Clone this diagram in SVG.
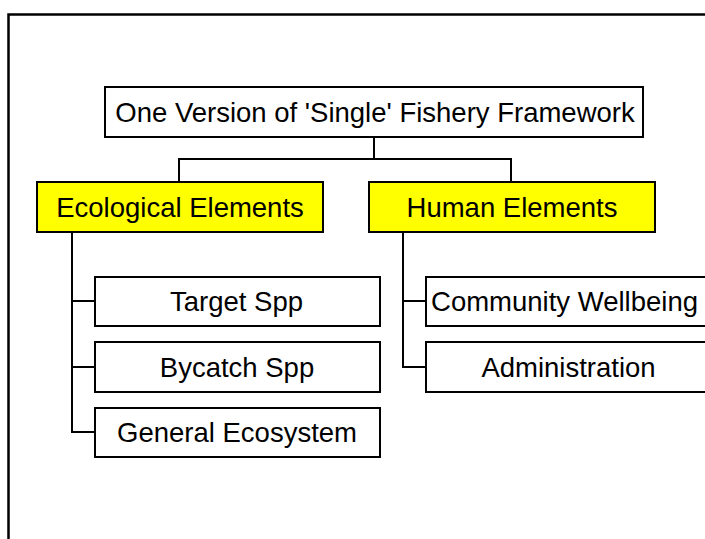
<svg xmlns="http://www.w3.org/2000/svg" width="705" height="539" viewBox="0 0 705 539">
  <style>
    .box { fill: #ffffff; stroke: #000000; stroke-width: 2; }
    .hi { fill: #ffff00; stroke: #000000; stroke-width: 2; }
    .lbl { font-family: "Liberation Sans", Arial, sans-serif; font-size: 27.5px; fill: #000000; text-anchor: middle; dominant-baseline: central; }
    .wire { fill: none; stroke: #000000; stroke-width: 2; }
  </style>
  <rect width="705" height="539" fill="#ffffff"/>
  <!-- outer frame (open at right and bottom) -->
  <path d="M8.5 539 V14.5 H705" fill="none" stroke="#000000" stroke-width="2.5"/>

  <g id="connectors">
    <path class="wire" d="M374 137 V159 M179 182 V159 H511 V182"/>
    <path class="wire" d="M72 232 V432 H95 M72 301 H95 M72 367 H95"/>
    <path class="wire" d="M403 232 V367 H426 M403 301 H426"/>
  </g>

  <g id="root">
    <rect class="box" x="105" y="87" width="538" height="50"/>
    <text class="lbl" x="375" y="112">One Version of 'Single' Fishery Framework</text>
  </g>
  <g id="ecological">
    <rect class="hi" x="37" y="182" width="286" height="50"/>
    <text class="lbl" x="180" y="207">Ecological Elements</text>
  </g>
  <g id="human">
    <rect class="hi" x="369" y="182" width="286" height="50"/>
    <text class="lbl" x="512" y="207">Human Elements</text>
  </g>
  <g id="target">
    <rect class="box" x="95" y="277" width="285" height="49"/>
    <text class="lbl" x="236.5" y="301.5">Target Spp</text>
  </g>
  <g id="bycatch">
    <rect class="box" x="95" y="342" width="285" height="50"/>
    <text class="lbl" x="237" y="367">Bycatch Spp</text>
  </g>
  <g id="ecosystem">
    <rect class="box" x="95" y="408" width="285" height="49"/>
    <text class="lbl" x="237" y="432.5">General Ecosystem</text>
  </g>
  <g id="community">
    <rect class="box" x="426" y="277" width="286" height="49"/>
    <text class="lbl" x="564.5" y="301.5">Community Wellbeing</text>
  </g>
  <g id="administration">
    <rect class="box" x="426" y="342" width="286" height="50"/>
    <text class="lbl" x="568.5" y="367">Administration</text>
  </g>
</svg>
